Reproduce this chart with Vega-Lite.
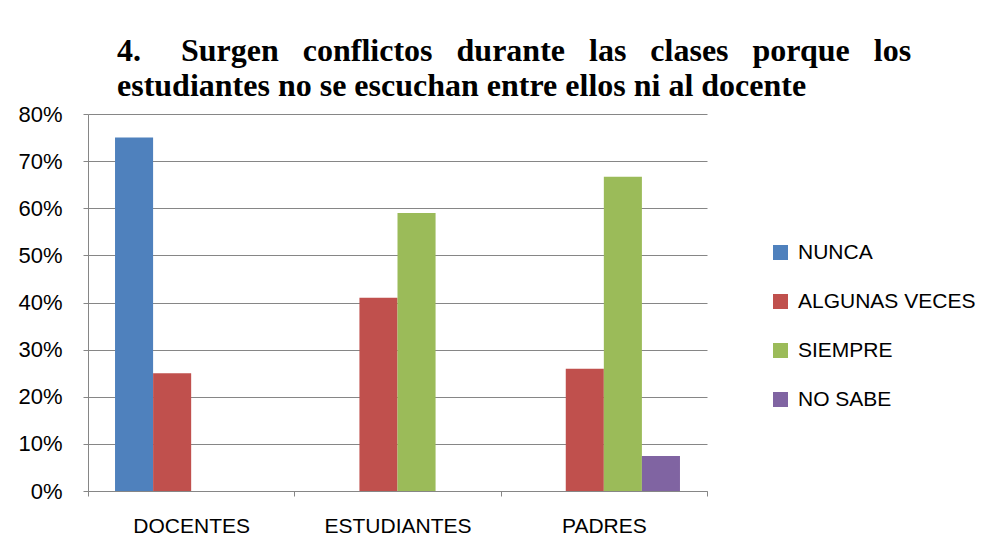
{
  "$schema": "https://vega.github.io/schema/vega-lite/v6.json",
  "width": 619,
  "height": 377,
  "autosize": {"type": "none"},
  "padding": {"left": 88, "top": 114, "right": 276, "bottom": 44},
  "background": "white",
  "title": {
    "text": ["4.\u00a0\u00a0\u00a0\u00a0\u00a0Surgen\u00a0\u00a0\u00a0conflictos\u00a0\u00a0\u00a0durante\u00a0\u00a0\u00a0las\u00a0\u00a0\u00a0clases\u00a0\u00a0\u00a0porque\u00a0\u00a0\u00a0los", "estudiantes no se escuchan entre ellos ni al docente"],
    "anchor": "start",
    "frame": "group",
    "dx": 29,
    "offset": 0,
    "font": "Liberation Serif",
    "fontSize": 32,
    "fontWeight": "bold",
    "color": "#000000",
    "lineHeight": 35
  },
  "data": {
    "values": [
      {"grupo": "DOCENTES", "serie": "NUNCA", "valor": 0.75},
      {"grupo": "DOCENTES", "serie": "ALGUNAS VECES", "valor": 0.25},
      {"grupo": "ESTUDIANTES", "serie": "ALGUNAS VECES", "valor": 0.41},
      {"grupo": "ESTUDIANTES", "serie": "SIEMPRE", "valor": 0.59},
      {"grupo": "PADRES", "serie": "ALGUNAS VECES", "valor": 0.2593},
      {"grupo": "PADRES", "serie": "SIEMPRE", "valor": 0.6667},
      {"grupo": "PADRES", "serie": "NO SABE", "valor": 0.0741}
    ]
  },
  "mark": {"type": "bar"},
  "encoding": {
    "x": {
      "field": "grupo",
      "type": "nominal",
      "sort": ["DOCENTES", "ESTUDIANTES", "PADRES"],
      "scale": {"paddingInner": 0, "paddingOuter": 0},
      "axis": {
        "title": null,
        "labelAngle": 0,
        "tickBand": "extent",
        "domainColor": "#868686",
        "tickColor": "#868686",
        "tickSize": 5,
        "labelPadding": 19,
        "labelFont": "Liberation Sans",
        "labelFontSize": 21,
        "labelColor": "#000000",
        "grid": false
      }
    },
    "xOffset": {
      "field": "serie",
      "type": "nominal",
      "scale": {"domain": ["NUNCA", "ALGUNAS VECES", "SIEMPRE", "NO SABE"], "paddingInner": 0, "paddingOuter": 0.71}
    },
    "y": {
      "field": "valor",
      "type": "quantitative",
      "scale": {"domain": [0, 0.8], "nice": false},
      "axis": {
        "title": null,
        "format": ".0%",
        "values": [0, 0.1, 0.2, 0.3, 0.4, 0.5, 0.6, 0.7, 0.8],
        "grid": true,
        "gridColor": "#868686",
        "domainColor": "#868686",
        "tickColor": "#868686",
        "tickSize": 5,
        "labelPadding": 21,
        "labelFont": "Liberation Sans",
        "labelFontSize": 22,
        "labelColor": "#000000"
      }
    },
    "color": {
      "field": "serie",
      "type": "nominal",
      "scale": {
        "domain": ["NUNCA", "ALGUNAS VECES", "SIEMPRE", "NO SABE"],
        "range": ["#4F81BD", "#C0504D", "#9BBB59", "#8064A2"]
      },
      "legend": {
        "title": null,
        "orient": "none",
        "legendX": 682,
        "legendY": 128,
        "symbolType": "square",
        "symbolSize": 225,
        "symbolStrokeWidth": 0,
        "labelFont": "Liberation Sans",
        "labelFontSize": 21,
        "labelLimit": 300,
        "labelColor": "#000000",
        "labelOffset": 7,
        "rowPadding": 27
      }
    }
  },
  "config": {
    "view": {"stroke": null}
  }
}
